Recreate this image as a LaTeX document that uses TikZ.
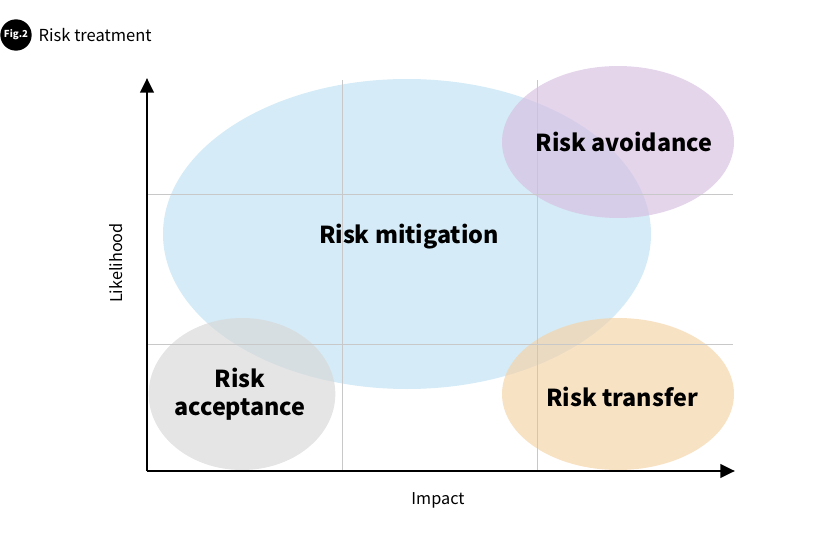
\documentclass[tikz,border=0pt]{standalone}
\usepackage{fontspec}
\setmainfont{Noto Sans CJK JP}
\usepackage{xcolor}
\usetikzlibrary{shapes.geometric, arrows.meta, positioning}
\definecolor{mitigation}{RGB}{190,225,242}
\definecolor{avoidance}{RGB}{215,190,225}
\definecolor{acceptance}{RGB}{215,215,215}
\definecolor{transfer}{RGB}{245,210,165}
\definecolor{gridgray}{RGB}{200,200,200}
\tikzset{
    zone/.style={ellipse, inner sep=0pt, opacity=0.65},
    zonelabel/.style={font=\fontsize{17.5}{21}\selectfont\bfseries, align=center},
    axis/.style={line width=2.2pt, -{Triangle[length=11pt, width=10pt]}},
    gridline/.style={gridgray, line width=0.5pt},
    axislabel/.style={font=\fontsize{12.2}{14}\selectfont}
}
\begin{document}
\begin{tikzpicture}[x=0.75pt, y=-0.75pt]
    \useasboundingbox (0,0) rectangle (840,546);

    % Title
    \node[circle, fill=black, minimum size=23.5pt, inner sep=0pt] (fig) at (16,35)
        {\color{white}\fontsize{7.2}{8}\selectfont\bfseries Fig.2};
    \node[right=1.5pt of fig, font=\fontsize{12.4}{14}\selectfont] (title) {Risk treatment};

    % Zones
    \node[zone, fill=mitigation, minimum width=366pt, minimum height=232.5pt] (mitig) at (407,234) {};
    \node[zone, fill=avoidance, minimum width=174pt, minimum height=114pt] (avoid) at (618,142) {};
    \node[zone, fill=acceptance, minimum width=140pt, minimum height=114pt] (accept) at (242,394) {};
    \node[zone, fill=transfer, minimum width=174pt, minimum height=114pt] (transf) at (618,394) {};

    % Axes and grid
    \coordinate (origin) at (147,471);
    \coordinate (xend) at (735,471);
    \coordinate (yend) at (147,78);
    \coordinate (v1b) at (342,471);
    \coordinate (v1t) at (342,80);
    \coordinate (v2b) at (537,471);
    \coordinate (v2t) at (537,80);
    \coordinate (h1l) at (147,194);
    \coordinate (h1r) at (733,194);
    \coordinate (h2l) at (147,344);
    \coordinate (h2r) at (733,344);
    \draw[gridline] (v1b) -- (v1t);
    \draw[gridline] (v2b) -- (v2t);
    \draw[gridline] (h1l) -- (h1r);
    \draw[gridline] (h2l) -- (h2r);
    \draw[axis] (origin) -- (xend);
    \draw[axis] (origin) -- (yend);

    % Labels
    \node[zonelabel] (mitiglbl) at (409,237) {Risk mitigation};
    \node[zonelabel] (avoidlbl) at (624,142) {Risk avoidance};
    \node[zonelabel] (acceptlbl) at (240,394) {Risk\\acceptance};
    \node[zonelabel] (transflbl) at (622,397) {Risk transfer};
    \node[axislabel] (impact) at (438,500) {Impact};
    \node[axislabel, rotate=90] (likely) at (116,263) {Likelihood};
\end{tikzpicture}
\end{document}
